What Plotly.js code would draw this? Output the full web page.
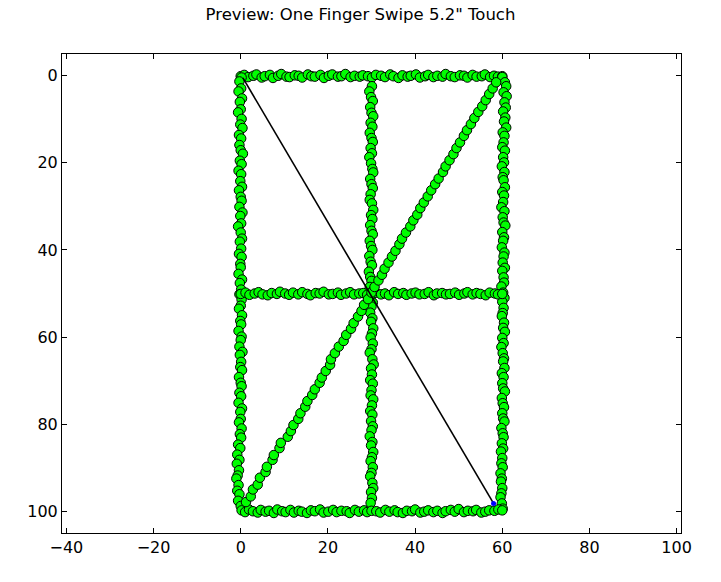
<!DOCTYPE html>
<html>
<head>
<meta charset="utf-8">
<script src="https://cdn.plot.ly/plotly-3.0.1.min.js"></script>
<style>html,body{margin:0;padding:0;background:#fff;}#chart{width:721px;height:582px;}</style>
</head>
<body>
<div id="chart"></div>
<script>
// ---- data ----
var titleText = 'Preview: One Finger Swipe 5.2" Touch';

var topX = [0, 0.8, 1.7, 2.9, 3.6, 4.8, 5.5, 6.7, 7.4, 8.6, 9.3, 10.5, 11.2, 12.4, 13.3, 14.1, 15.4, 16.2, 17.0, 18.3, 19.1, 20.2, 21.0, 22.3, 23.1, 24.0, 25.2, 26.1, 27.3, 28.0, 29.2, 30.1, 31.0, 32.2, 33.1, 34.3, 35.0, 36.2, 37.1, 38.3, 39.0, 40.2, 41.1, 42.3, 43.0, 44.2, 45.1, 46.3, 47.0, 48.2, 49.1, 50.3, 51.2, 52.0, 53.2, 54.1, 55.3, 56.0, 57.2, 58.1, 59.0, 60.0];
var topY = [0.1, -0.2, 0.3, 0.0, -0.3, 0.4, 0.1, -0.2, 0.5, 0.0, -0.4, 0.2, 0.3, -0.1, 0.0, 0.4, -0.3, 0.1, 0.2, -0.2, 0.5, 0.0, -0.3, 0.2, 0.1, -0.4, 0.3, 0.0, 0.2, -0.1, 0.1, 0.4, -0.2, 0.0, 0.3, -0.3, 0.1, 0.5, -0.1, 0.2, 0.0, -0.3, 0.4, 0.1, -0.2, 0.3, 0.0, 0.2, -0.4, 0.1, 0.3, -0.1, 0.0, 0.4, -0.2, 0.2, 0.1, -0.3, 0.3, 0.0, 0.2, 0.1];

var leftX = [0.2, -0.3, 0.1, -0.5, 0.3, -0.2, 0.0, -0.6, 0.2, -0.1, 0.4, -0.4, 0.1, -0.3, 0.0, 0.5, -0.2, 0.2, -0.5, 0.1, -0.1, 0.3, -0.4, 0.0, 0.2, -0.3, 0.4, -0.1, 0.1, -0.6, 0.0, 0.3, -0.2, 0.1, -0.4, 0.2, -0.1, 0.0, -0.5, 0.3, -0.2, 0.1, -0.3, 0.2, 0.0, -0.4, 0.3, -0.1, 0.1, -0.5, 0.2, 0.0, -0.3, 0.4, -0.2, 0.1, -0.1, 0.3, -0.4, 0.0, 0.2, -0.3, 0.1, -0.5, 0.3, -0.1, 0.0, -0.4, 0.2, -0.2, 0.1, -0.6, -0.1, -0.8, -0.3, -0.9, -0.4, -0.7, -1.0, -0.5, -0.8, -0.3, -0.6, 0.0];
var leftY = [0.4, 1.3, 2.9, 3.6, 5.2, 6.0, 7.7, 8.4, 9.9, 11.2, 12.0, 13.6, 14.4, 15.9, 17.1, 17.9, 19.5, 20.3, 21.8, 22.6, 24.2, 25.5, 26.3, 27.8, 28.7, 30.1, 31.4, 32.2, 33.9, 34.6, 36.0, 37.4, 38.1, 39.7, 40.9, 41.6, 43.2, 44.0, 45.5, 46.8, 47.6, 49.1, 50.2, 51.4, 52.8, 53.5, 55.0, 56.3, 57.1, 58.6, 59.9, 60.7, 62.2, 63.4, 64.1, 65.7, 66.9, 67.6, 69.2, 70.5, 71.3, 72.8, 73.6, 75.1, 76.4, 77.2, 78.8, 79.6, 81.0, 82.3, 83.1, 84.7, 85.5, 87.0, 88.2, 89.1, 90.6, 91.8, 92.5, 94.0, 95.3, 96.1, 97.6, 98.8];

var midVX = [30.1, 29.5, 29.9, 30.3, 29.7, 30.0, 30.4, 29.8, 30.2, 29.6, 30.0, 30.3, 29.8, 30.1, 29.5, 29.9, 30.2, 30.4, 29.7, 30.0, 30.3, 29.8, 29.6, 30.1, 30.4, 29.9, 30.2, 29.7, 30.0, 30.3, 29.6, 29.9, 30.2, 29.5, 29.8, 30.1, 29.4, 29.7, 30.0, 29.6, 30.1, 29.8, 30.3, 30.0, 29.7, 30.2, 29.9, 30.4, 30.1, 29.8, 30.3, 30.0, 29.6, 30.2, 30.5, 29.9, 30.1, 29.7, 30.3, 30.0, 29.8, 30.4, 30.1, 29.7, 30.2, 29.9, 30.3, 30.0, 29.6, 30.2, 29.9, 30.4, 30.1, 29.8, 30.3, 30.0, 29.7, 30.2, 30.4, 29.9, 30.1, 29.8];
var midVY = [2.4, 3.6, 4.9, 5.8, 7.2, 8.5, 9.3, 10.8, 11.7, 13.1, 14.3, 15.2, 16.6, 17.8, 18.7, 20.1, 21.4, 22.2, 23.7, 24.9, 25.8, 27.2, 28.5, 29.3, 30.8, 32.0, 32.9, 34.3, 35.6, 36.4, 37.9, 39.1, 40.0, 41.4, 42.7, 43.5, 45.0, 46.2, 47.1, 48.5, 49.6, 50.8, 52.1, 53.0, 54.4, 55.7, 56.5, 58.0, 59.2, 60.1, 61.5, 62.8, 63.6, 65.1, 66.3, 67.2, 68.6, 69.9, 70.7, 72.2, 73.4, 74.3, 75.7, 77.0, 77.8, 79.3, 80.5, 81.4, 82.8, 84.1, 84.9, 86.4, 87.6, 88.5, 89.9, 91.2, 92.0, 93.5, 94.7, 95.6, 97.0, 98.1];

var rightX = [60.0, 60.6, 60.9, 60.3, 61.0, 60.5, 60.8, 60.2, 60.7, 60.4, 60.9, 60.1, 60.5, 60.3, 60.0, 60.6, 60.2, 60.4, 59.9, 60.5, 60.1, 60.3, 60.6, 60.0, 60.4, 60.2, 59.8, 60.5, 60.1, 60.3, 60.7, 60.0, 60.4, 60.2, 59.9, 60.5, 60.3, 60.1, 60.6, 60.0, 60.3, 60.4, 59.8, 60.2, 60.5, 60.0, 60.3, 60.1, 59.9, 60.4, 60.2, 60.6, 60.0, 60.3, 59.8, 60.1, 60.4, 60.2, 60.5, 59.9, 60.3, 60.0, 60.2, 60.6, 59.9, 60.1, 60.4, 60.0, 60.2, 60.5, 59.8, 60.1, 60.3, 59.9, 60.2, 59.7, 60.0, 59.8, 60.1, 59.6, 59.9, 59.7, 60.0, 59.8, 59.6, 59.9, 60.1];
var rightY = [0.3, 1.5, 2.4, 3.8, 4.7, 6.1, 7.3, 8.2, 9.6, 10.5, 11.9, 13.0, 13.8, 15.3, 16.4, 17.2, 18.7, 19.9, 20.8, 22.1, 23.3, 24.0, 25.6, 26.7, 27.5, 29.0, 30.2, 31.1, 32.5, 33.7, 34.4, 35.9, 37.1, 37.9, 39.4, 40.6, 41.5, 42.9, 44.1, 44.8, 46.3, 47.5, 48.4, 49.8, 51.0, 51.9, 53.3, 54.5, 55.2, 56.7, 57.9, 58.8, 60.2, 61.4, 62.3, 63.7, 64.9, 65.6, 67.1, 68.3, 69.2, 70.6, 71.8, 72.5, 74.0, 75.2, 76.1, 77.5, 78.7, 79.4, 80.9, 82.1, 83.0, 84.4, 85.6, 86.3, 87.8, 89.0, 89.9, 91.3, 92.5, 93.2, 94.7, 95.9, 96.8, 98.2, 99.4];

var midHX = [0.0, 1.1, 2.0, 3.2, 4.1, 5.0, 6.2, 7.1, 8.3, 9.0, 10.2, 11.1, 12.0, 13.2, 14.1, 15.3, 16.0, 17.2, 18.1, 19.0, 20.2, 21.1, 22.3, 23.0, 24.2, 25.1, 26.0, 27.2, 28.1, 29.0, 30.1, 31.0, 32.2, 33.1, 34.0, 35.2, 36.1, 37.3, 38.0, 39.2, 40.1, 41.0, 42.2, 43.1, 44.3, 45.0, 46.2, 47.1, 48.0, 49.2, 50.1, 51.3, 52.0, 53.2, 54.1, 55.0, 56.2, 57.1, 58.3, 59.0, 60.0];
var midHY = [50.1, 49.8, 50.3, 50.0, 49.7, 50.2, 50.4, 49.9, 50.1, 49.6, 50.0, 50.3, 49.8, 50.2, 49.7, 50.1, 50.4, 49.9, 50.0, 49.6, 50.2, 50.1, 49.8, 50.3, 50.0, 49.7, 50.2, 50.0, 49.9, 50.3, 50.1, 49.8, 50.2, 50.0, 50.4, 49.7, 50.1, 49.9, 50.3, 50.0, 49.8, 50.2, 50.1, 49.7, 50.4, 50.0, 49.9, 50.2, 50.1, 49.8, 50.3, 50.0, 49.7, 50.2, 49.9, 50.1, 50.4, 49.8, 50.0, 50.2, 50.1];

var botX = [0.2, 1.0, 1.9, 2.8, 3.9, 4.6, 5.7, 6.5, 7.6, 8.4, 9.5, 10.3, 11.4, 12.2, 13.3, 14.0, 15.2, 16.1, 17.0, 18.2, 19.0, 20.1, 21.2, 22.0, 23.1, 24.3, 25.0, 26.2, 27.1, 28.3, 29.0, 30.0, 31.1, 32.0, 33.2, 34.1, 35.3, 36.0, 37.2, 38.1, 39.3, 40.0, 41.2, 42.1, 43.0, 44.2, 45.1, 46.3, 47.0, 48.2, 49.1, 50.0, 51.2, 52.1, 53.3, 54.0, 55.2, 56.1, 57.0, 58.2, 59.1, 60.0];
var botY = [99.8, 100.2, 99.6, 100.0, 100.3, 99.7, 100.1, 99.9, 100.4, 99.6, 100.0, 100.2, 99.7, 100.3, 99.9, 100.1, 100.4, 99.8, 100.0, 99.6, 100.3, 100.1, 99.7, 100.2, 99.9, 100.0, 100.4, 99.7, 100.1, 99.8, 100.2, 99.9, 100.0, 100.3, 99.7, 100.1, 99.8, 100.2, 100.4, 99.9, 100.0, 99.6, 100.3, 100.1, 99.8, 100.2, 99.9, 100.4, 100.0, 99.7, 100.1, 99.5, 100.2, 99.9, 100.0, 99.7, 100.3, 100.1, 99.8, 99.9, 99.6, 99.8];

var diagX = [1.2, 2.3, 2.8, 3.9, 4.4, 5.7, 6.0, 7.3, 7.6, 8.9, 9.2, 10.8, 11.5, 12.1, 13.2, 13.7, 14.8, 15.3, 16.4, 17.0, 18.1, 18.6, 19.5, 20.5, 20.7, 21.6, 22.5, 23.6, 24.2, 25.3, 25.9, 26.9, 27.7, 28.3, 29.2, 30.0, 30.7, 31.6, 32.4, 33.0, 33.9, 34.7, 35.5, 36.4, 37.0, 37.9, 38.9, 39.6, 40.5, 41.2, 42.0, 42.9, 43.7, 44.6, 45.4, 46.4, 47.0, 47.9, 48.8, 49.5, 50.3, 51.2, 51.9, 52.8, 53.6, 54.5, 55.4, 56.2, 57.0, 57.8, 58.6];
var diagY = [97.9, 96.6, 95.0, 93.9, 92.3, 91.0, 89.8, 88.2, 87.1, 85.5, 84.3, 82.9, 81.6, 80.2, 78.8, 77.5, 76.0, 74.7, 73.3, 72.0, 70.5, 69.3, 67.8, 66.4, 65.1, 63.7, 62.2, 60.9, 59.5, 58.1, 56.8, 55.3, 54.0, 52.6, 51.3, 49.8, 48.5, 47.0, 45.7, 44.3, 42.9, 41.5, 40.2, 38.7, 37.4, 36.0, 34.6, 33.2, 31.9, 30.4, 29.1, 27.7, 26.3, 24.9, 23.6, 22.1, 20.8, 19.4, 18.0, 16.6, 15.3, 13.8, 12.5, 11.1, 9.7, 8.3, 7.0, 5.6, 4.2, 2.9, 1.5];

var arrowX = [0.5, 58.0];
var arrowY = [0.5, 98.2];

var xTickVals = [-40, -20, 0, 20, 40, 60, 80, 100];
var xTickText = ['\u221240', '\u221220', '0', '20', '40', '60', '80', '100'];
var yTickVals = [0, 20, 40, 60, 80, 100];
var yTickText = ['0', '20', '40', '60', '80', '100'];

// ---- chart ----
var strokes = [[topX, topY], [leftX, leftY], [midVX, midVY], [rightX, rightY], [midHX, midHY], [botX, botY], [diagX, diagY]];
var traces = strokes.map(function (s) {
  return {
    type: 'scatter', mode: 'markers', x: s[0], y: s[1], hoverinfo: 'skip',
    marker: {color: '#00ff00', size: 9.5, line: {color: '#000000', width: 1}}
  };
});
traces.push({
  type: 'scatter', mode: 'lines', x: arrowX, y: arrowY, hoverinfo: 'skip',
  line: {color: '#000000', width: 1.6}
});
traces.push({
  type: 'scatter', mode: 'markers', x: [arrowX[1]], y: [arrowY[1]], hoverinfo: 'skip',
  marker: {color: '#0000ff', size: 5, symbol: 'circle', line: {width: 0}}
});

var fontFam = '"DejaVu Sans", "Bitstream Vera Sans", sans-serif';
var axisCommon = {
  showgrid: false, zeroline: false, showline: true, linecolor: '#000', linewidth: 1,
  mirror: 'allticks', ticks: 'inside', ticklen: 5, tickwidth: 1, tickcolor: '#000',
  tickfont: {family: fontFam, size: 16, color: '#000'}, tickmode: 'array'
};

var layout = {
  width: 721, height: 582,
  paper_bgcolor: '#fff', plot_bgcolor: '#fff',
  showlegend: false,
  margin: {l: 62, r: 40, t: 54, b: 49, pad: 0},
  title: {text: titleText, font: {family: fontFam, size: 16.5, color: '#000'},
          x: 0.5, xref: 'container', xanchor: 'center', y: 0.976, yref: 'container', yanchor: 'middle'},
  xaxis: Object.assign({}, axisCommon, {range: [-41, 101], tickvals: xTickVals, ticktext: xTickText}),
  yaxis: Object.assign({}, axisCommon, {range: [105, -5], tickvals: yTickVals, ticktext: yTickText})
};

Plotly.newPlot('chart', traces, layout, {displayModeBar: false, staticPlot: true});
</script>
</body>
</html>
